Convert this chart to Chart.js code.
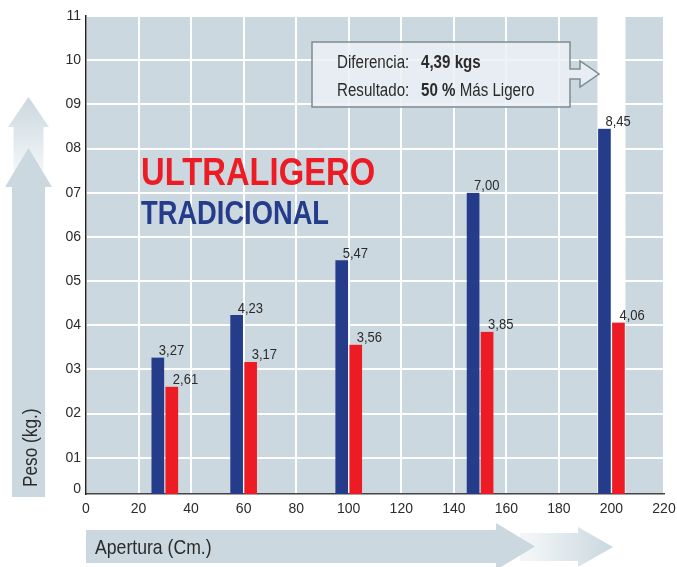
<!DOCTYPE html>
<html>
<head>
<meta charset="utf-8">
<title>Peso vs Apertura</title>
<script src="https://cdn.jsdelivr.net/npm/chart.js@4.4.1/dist/chart.umd.min.js"></script>
<style>
  html, body { margin: 0; padding: 0; background: #fff; }
  #chart { display: block; }
</style>
</head>
<body>
<canvas id="chart" width="677" height="567"></canvas>
<script>
// aperture (cm) of each model and its weight (kg)
const aperturas = [30, 60, 100, 150, 200];
const tradicional = [3.27, 4.23, 5.47, 7.00, 8.45];
const ultraligero = [2.61, 3.17, 3.56, 3.85, 4.06];
const yTickValues = [0.3, 1, 2, 3, 4, 5, 6, 7, 8, 9, 10, 11];
const yTickLabels = ['0', '01', '02', '03', '04', '05', '06', '07', '08', '09', '10', '11'];

const FONT = "'Liberation Sans', Arial, sans-serif";
const NARROW = 0.84; // horizontal squeeze for the condensed look
const PANEL = '#cbd8e0';
const BLUE = '#253c8b';
const RED = '#ed1c24';
const INK = '#2b2b2b';

Chart.defaults.font.family = FONT;
Chart.defaults.color = INK;

const fmt = v => v.toFixed(2).replace('.', ',');

// condensed text: returns the drawn width
function narrowText(ctx, text, x, y, font) {
  ctx.save();
  ctx.font = font;
  ctx.translate(x, y);
  ctx.scale(NARROW, 1);
  ctx.fillText(text, 0, 0);
  const w = ctx.measureText(text).width * NARROW;
  ctx.restore();
  return w;
}

function upArrow(ctx, cx, tipY, baseY, headHalf, shaftHalf, bottomY) {
  ctx.beginPath();
  ctx.moveTo(cx, tipY);
  ctx.lineTo(cx + headHalf, baseY);
  ctx.lineTo(cx + shaftHalf, baseY);
  ctx.lineTo(cx + shaftHalf, bottomY);
  ctx.lineTo(cx - shaftHalf, bottomY);
  ctx.lineTo(cx - shaftHalf, baseY);
  ctx.lineTo(cx - headHalf, baseY);
  ctx.closePath();
  ctx.fill();
}

function rightArrow(ctx, leftX, baseX, tipX, cy, headHalf, shaftHalf) {
  ctx.beginPath();
  ctx.moveTo(tipX, cy);
  ctx.lineTo(baseX, cy - headHalf);
  ctx.lineTo(baseX, cy - shaftHalf);
  ctx.lineTo(leftX, cy - shaftHalf);
  ctx.lineTo(leftX, cy + shaftHalf);
  ctx.lineTo(baseX, cy + shaftHalf);
  ctx.lineTo(baseX, cy + headHalf);
  ctx.closePath();
  ctx.fill();
}

// panel, highlight column, axis arrows and axis titles
const backdrop = {
  id: 'backdrop',
  beforeDraw(chart) {
    const { ctx, chartArea: a } = chart;
    ctx.save();
    ctx.fillStyle = PANEL;
    ctx.fillRect(a.left, a.top, a.right - a.left, a.bottom - a.top);

    const last = aperturas.length - 1;
    const b0 = chart.getDatasetMeta(0).data[last];
    const b1 = chart.getDatasetMeta(1).data[last];
    const l = b0.x - b0.width / 2, r = b1.x + b1.width / 2;
    ctx.fillStyle = '#fff';
    ctx.fillRect(l, a.top, r - l, a.bottom - a.top);

    // vertical arrows
    let g = ctx.createLinearGradient(0, 97, 0, 168);
    g.addColorStop(0, '#cad7df');
    g.addColorStop(1, '#f1f5f7');
    ctx.fillStyle = g;
    upArrow(ctx, 28.5, 97, 127, 20.5, 15, 170);
    ctx.fillStyle = PANEL;
    upArrow(ctx, 28.5, 148, 187, 23.5, 16.5, 497);

    // horizontal arrows
    g = ctx.createLinearGradient(530, 0, 613, 0);
    g.addColorStop(0, '#f1f5f7');
    g.addColorStop(1, '#cad7df');
    ctx.fillStyle = g;
    rightArrow(ctx, 520, 578, 613, 547, 20, 14);
    ctx.fillStyle = PANEL;
    rightArrow(ctx, 86, 496, 535, 546.5, 23.5, 16.5);

    ctx.fillStyle = INK;
    ctx.textBaseline = 'middle';
    ctx.textAlign = 'left';
    narrowText(ctx, 'Apertura (Cm.)', 95, 548, '21px ' + FONT);
    ctx.translate(31, 487);
    ctx.rotate(-Math.PI / 2);
    narrowText(ctx, 'Peso (kg.)', 0, 0, '20.5px ' + FONT);
    ctx.restore();
  }
};

// value labels above each bar
const barLabels = {
  id: 'barLabels',
  afterDatasetsDraw(chart) {
    const { ctx } = chart;
    ctx.save();
    ctx.fillStyle = INK;
    ctx.textAlign = 'left';
    ctx.textBaseline = 'bottom';
    chart.data.datasets.forEach((ds, i) => {
      chart.getDatasetMeta(i).data.forEach((bar, j) => {
        narrowText(ctx, fmt(ds.data[j].y), bar.x + 1, bar.y + 1, '15.5px ' + FONT);
      });
    });
    ctx.restore();
  }
};

// series names and the difference callout
const callouts = {
  id: 'callouts',
  afterDraw(chart) {
    const { ctx } = chart;
    const [trad, ultra] = chart.data.datasets;
    ctx.save();
    ctx.textAlign = 'left';
    ctx.textBaseline = 'alphabetic';
    ctx.fillStyle = ultra.backgroundColor;
    narrowText(ctx, ultra.label, 141, 185, 'bold 39px ' + FONT);
    ctx.fillStyle = trad.backgroundColor;
    narrowText(ctx, trad.label, 141, 224, 'bold 32.5px ' + FONT);

    // box with pointer
    ctx.fillStyle = 'rgba(236, 241, 244, 0.85)';
    ctx.strokeStyle = '#7d8b91';
    ctx.lineWidth = 1.5;
    ctx.beginPath();
    ctx.moveTo(312, 42);
    ctx.lineTo(570, 42);
    ctx.lineTo(570, 69);
    ctx.lineTo(580, 69);
    ctx.lineTo(580, 61);
    ctx.lineTo(599, 74);
    ctx.lineTo(580, 87);
    ctx.lineTo(580, 79);
    ctx.lineTo(570, 79);
    ctx.lineTo(570, 107);
    ctx.lineTo(312, 107);
    ctx.closePath();
    ctx.fill();
    ctx.stroke();

    const last = aperturas.length - 1;
    const diff = trad.data[last].y - ultra.data[last].y;
    const reg = '18px ' + FONT, bold = 'bold 18px ' + FONT;
    ctx.fillStyle = INK;
    narrowText(ctx, 'Diferencia:', 337, 68, reg);
    narrowText(ctx, 'Resultado:', 337, 96, reg);
    narrowText(ctx, fmt(diff) + ' kgs', 421, 68, bold);
    const w = narrowText(ctx, '50 % ', 421, 96, bold);
    narrowText(ctx, 'Más Ligero', 421 + w, 96, reg);
    ctx.restore();
  }
};

new Chart(document.getElementById('chart'), {
  type: 'bar',
  data: {
    datasets: [
      {
        label: 'TRADICIONAL',
        data: aperturas.map((x, i) => ({ x, y: tradicional[i] })),
        backgroundColor: BLUE
      },
      {
        label: 'ULTRALIGERO',
        data: aperturas.map((x, i) => ({ x, y: ultraligero[i] })),
        backgroundColor: RED
      }
    ]
  },
  options: {
    responsive: false,
    animation: false,
    devicePixelRatio: 1,
    layout: { padding: { top: 16, right: 13, left: 0, bottom: 0 } },
    datasets: {
      bar: {
        barThickness: 14,
        borderWidth: { left: 1, right: 1, top: 0, bottom: 0 },
        borderColor: 'rgba(0,0,0,0)'
      }
    },
    plugins: {
      legend: { display: false },
      tooltip: { enabled: false }
    },
    scales: {
      x: {
        type: 'linear',
        min: 0,
        max: 220,
        offset: false,
        ticks: { stepSize: 20, padding: 7, font: { size: 14 }, color: INK, maxRotation: 0 },
        grid: { color: '#fff', lineWidth: 2, drawTicks: false, offset: false },
        border: { color: '#444', width: 1.5 },
        afterFit(s) {
          s.height = 73;
          s.paddingLeft = 0;
          s.paddingRight = 0;
        }
      },
      y: {
        min: 0.18,
        max: 11,
        afterBuildTicks(s) { s.ticks = yTickValues.map(v => ({ value: v })); },
        ticks: { padding: 5, font: { size: 14 }, color: INK, callback: (v, i) => yTickLabels[i] },
        grid: {
          // the "0" label sits just above the axis line, without a grid line
          color: c => (c.tick && c.tick.value < 1 ? 'rgba(0,0,0,0)' : '#fff'),
          lineWidth: 2,
          drawTicks: false
        },
        border: { color: '#222', width: 1.5 },
        afterFit(s) { s.width = 86; }
      }
    }
  },
  plugins: [backdrop, barLabels, callouts]
});
</script>
</body>
</html>
